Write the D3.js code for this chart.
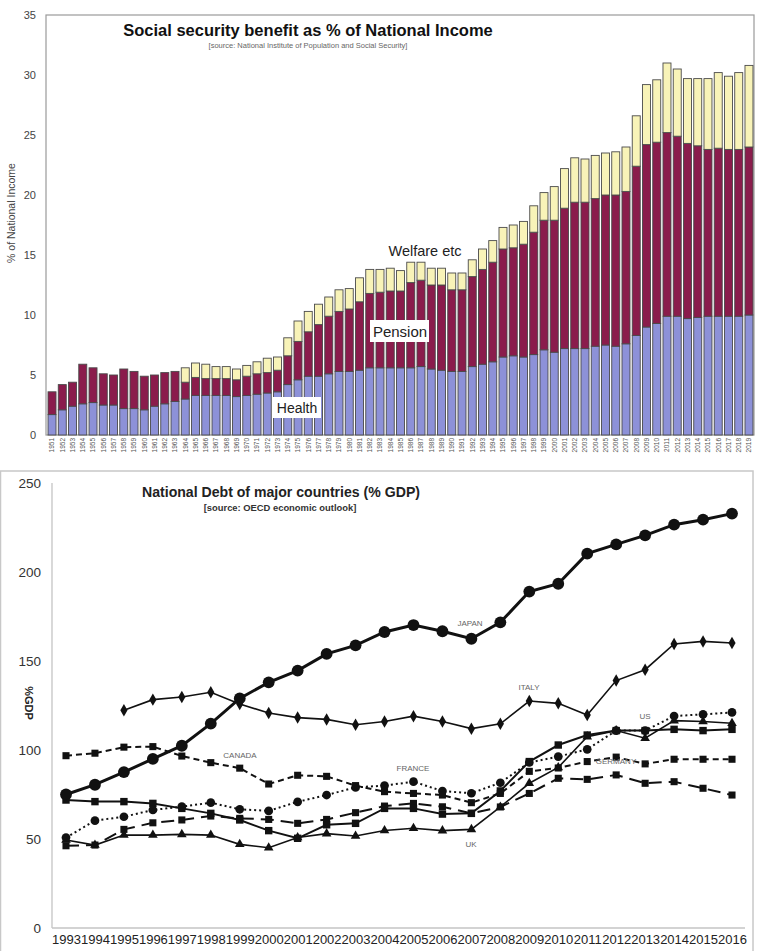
<!DOCTYPE html>
<html><head><meta charset="utf-8">
<script src="https://cdn.jsdelivr.net/npm/d3@7"></script>
<style>body{margin:0;background:#fff}svg{display:block}</style>
</head><body><svg id="c" width="757" height="951"></svg>
<script>
// ---------- Top chart data ----------
const ssYears = [1951,1952,1953,1954,1955,1956,1957,1958,1959,1960,1961,1962,1963,1964,1965,1966,1967,1968,1969,1970,
1971,1972,1973,1974,1975,1976,1977,1978,1979,1980,1981,1982,1983,1984,1985,1986,1987,1988,1989,1990,
1991,1992,1993,1994,1995,1996,1997,1998,1999,2000,2001,2002,2003,2004,2005,2006,2007,2008,2009,2010,
2011,2012,2013,2014,2015,2016,2017,2018,2019];
const health = [1.7,2.1,2.4,2.6,2.7,2.5,2.5,2.2,2.2,2.1,2.4,2.6,2.8,3.0,3.3,3.3,3.3,3.3,3.2,3.3,
3.4,3.5,3.6,4.2,4.6,4.9,4.9,5.1,5.3,5.3,5.4,5.6,5.6,5.6,5.6,5.6,5.7,5.5,5.4,5.3,
5.3,5.7,5.9,6.1,6.5,6.6,6.5,6.7,7.1,6.9,7.2,7.2,7.2,7.4,7.5,7.4,7.6,8.3,9.0,9.3,
9.9,9.9,9.7,9.8,9.9,9.9,9.9,9.9,10.0];
const pension = [1.9,2.1,2.0,3.3,2.9,2.6,2.5,3.3,3.1,2.8,2.6,2.6,2.5,1.4,1.5,1.4,1.4,1.4,1.4,1.6,
1.7,1.7,1.8,2.4,3.2,3.7,4.3,4.8,5.0,5.2,5.7,6.2,6.3,6.4,6.4,7.1,7.2,7.0,7.1,6.8,
6.8,7.5,7.9,8.3,9.0,9.0,9.4,10.2,10.8,11.0,11.7,12.2,12.2,12.3,12.5,12.6,12.7,14.1,15.2,15.1,
15.3,15.0,14.6,14.3,13.9,14.0,13.9,13.9,14.0];
const welfare = [0,0,0,0,0,0,0,0,0,0,0,0,0,1.2,1.2,1.2,1.0,1.0,0.9,0.9,
1.0,1.2,1.1,1.5,1.7,1.7,1.7,1.6,1.8,1.7,2.0,2.0,1.9,1.9,1.7,1.7,1.5,1.4,1.4,1.4,
1.4,1.4,1.7,1.8,1.8,1.9,1.9,2.2,2.3,2.8,3.3,3.7,3.6,3.6,3.5,3.6,3.7,4.2,5.0,5.2,
5.8,5.6,5.4,5.6,5.9,6.3,6.1,6.4,6.8];
const ssKeys = ["health","pension","welfare"];
const ssColors = ["#8d91d8","#8a1c4c","#f8f3b8"];
const ssTicks = [0,5,10,15,20,25,30,35];

// ---------- Bottom chart data ----------
const debtYears = ["1993","1994","1995","1996","1997","1998","1999","2000","2001","2002","2003","2004",
"2005","2006","2007","2008","2009","2010","2011","2012","2013","2014","2015","2016"];
const japan   = [75,80.5,87.6,95,102.4,114.8,129,138,144.6,154,158.8,166.3,170.2,166.7,162.5,171.7,189,193.4,210.3,215.5,220.6,226.6,229.4,232.8];
const italy   = [null,null,122.3,128.3,129.8,132.4,125.8,120.8,118.2,117.2,114.2,116,119,116,112,114.7,127.5,126.2,119.6,139,145.1,159.6,161,160.1];
const canada  = [96.8,98.2,101.6,101.9,96.6,92.9,89.8,80.9,85.8,85.2,80,76.6,75.6,74.7,70.4,75.6,88,89.9,93.5,96,92.2,94.8,94.8,94.8];
const france  = [50.8,60.3,62.5,66.3,68.2,70.4,66.7,65.8,70.9,74.7,79,80,82.2,76.9,75.7,81.6,93,96.3,100.4,110.9,110.9,119.1,120,121.1];
const us      = [71.9,71,71,70,67.2,64.4,60.7,54.7,50.4,58,58.8,67.2,67.2,64,64.4,77,93.5,102.8,108.4,110.9,110.9,111.6,110.9,111.6];
const uk      = [49.4,46.6,52.2,52.2,52.6,52.2,47,45.1,50.8,53,51.7,54.8,56,54.7,55.4,68,81.3,90.2,107.5,110.9,106.6,116.5,116,115];
const germany = [46.2,46.6,55.4,59.1,60.7,62.9,61.6,61,58.8,61,64.8,68.5,70,68.1,64.4,68,75.6,84.1,83.5,86,81.3,82.2,78.5,74.7];
const debtTicks = [0,50,100,150,200,250];

const svg = d3.select("#c");
const FONT = "Liberation Sans, Arial, sans-serif";

// =================== TOP CHART ===================
const gTop = svg.append("g");
const x1 = d3.scaleBand().domain(ssYears).range([47, 754]).paddingInner(0.22).paddingOuter(0.1);
const y1 = d3.scaleLinear().domain([0, 35]).range([435, 15]);

gTop.append("rect").attr("x", 46).attr("y", y1(35)).attr("width", 708).attr("height", y1(0) - y1(35))
  .attr("fill", "#fff").attr("stroke", "#9a9a9a").attr("stroke-width", 1.2);

const rows = ssYears.map((yr, i) => ({year: yr, health: health[i], pension: pension[i], welfare: welfare[i]}));
const stacked = d3.stack().keys(ssKeys)(rows);
stacked.forEach((layer, li) => {
  gTop.append("g").selectAll("rect").data(layer).join("rect")
    .attr("x", d => x1(d.data.year))
    .attr("width", x1.bandwidth())
    .attr("y", d => y1(d[1]))
    .attr("height", d => Math.max(0, y1(d[0]) - y1(d[1])))
    .attr("fill", ssColors[li])
    .attr("stroke", d => (d[1] - d[0]) > 0 ? "#4a4a4a" : "none")
    .attr("stroke-width", 0.9);
});

const yAx1 = gTop.append("g").attr("transform", "translate(46,0)")
  .call(d3.axisLeft(y1).tickValues(ssTicks).tickSize(0).tickPadding(10));
yAx1.select(".domain").remove();
yAx1.selectAll("text").attr("font-size", 11).attr("font-family", FONT).attr("fill", "#444");

const xAx1 = gTop.append("g").attr("transform", `translate(0,${y1(0)})`)
  .call(d3.axisBottom(x1).tickSize(0));
xAx1.select(".domain").remove();
xAx1.selectAll("text")
  .attr("font-size", 6.5).attr("font-family", FONT).attr("fill", "#555")
  .attr("transform", "rotate(-90)").attr("text-anchor", "end")
  .attr("x", -3).attr("y", 0).attr("dy", "0.35em");

gTop.append("text").attr("transform", "translate(15,213) rotate(-90)")
  .attr("text-anchor", "middle").attr("font-size", 10.5).attr("font-family", FONT).attr("fill", "#444")
  .text("% of National Income");

gTop.append("text").attr("x", 308).attr("y", 36).attr("text-anchor", "middle")
  .attr("font-size", 16.5).attr("font-weight", "bold").attr("font-family", FONT).attr("fill", "#111")
  .text("Social security benefit as % of National Income");
gTop.append("text").attr("x", 308).attr("y", 48).attr("text-anchor", "middle")
  .attr("font-size", 7.5).attr("font-family", FONT).attr("fill", "#666")
  .text("[source: National Institute of Population and Social Security]");

gTop.append("text").attr("x", 425).attr("y", 256).attr("text-anchor", "middle")
  .attr("font-size", 14.5).attr("font-family", FONT).attr("fill", "#222").text("Welfare etc");
gTop.append("rect").attr("x", 370).attr("y", 320).attr("width", 59).attr("height", 22).attr("fill", "#fff");
gTop.append("text").attr("x", 400).attr("y", 337).attr("text-anchor", "middle")
  .attr("font-size", 15).attr("font-family", FONT).attr("fill", "#222").text("Pension");
gTop.append("rect").attr("x", 273).attr("y", 397).attr("width", 48).attr("height", 21).attr("fill", "#fff");
gTop.append("text").attr("x", 297).attr("y", 413).attr("text-anchor", "middle")
  .attr("font-size", 14).attr("font-family", FONT).attr("fill", "#222").text("Health");

// =================== BOTTOM CHART ===================
const gBot = svg.append("g");
gBot.append("rect").attr("x", 0.5).attr("y", 471).attr("width", 752.5).attr("height", 490)
  .attr("fill", "#fff").attr("stroke", "#c8c8c8").attr("stroke-width", 1.5);

const x2 = d3.scalePoint().domain(debtYears).range([66, 732]);
const y2 = d3.scaleLinear().domain([0, 250]).range([928, 483]);

gBot.append("line").attr("x1", 52).attr("x2", 52).attr("y1", y2(250)).attr("y2", y2(0))
  .attr("stroke", "#c4c4c4").attr("stroke-width", 1.3);
gBot.append("line").attr("x1", 52).attr("x2", 745).attr("y1", y2(0)).attr("y2", y2(0))
  .attr("stroke", "#c4c4c4").attr("stroke-width", 1.3);

const yAx2 = gBot.append("g").attr("transform", "translate(52,0)")
  .call(d3.axisLeft(y2).tickValues(debtTicks).tickSize(0).tickPadding(11));
yAx2.select(".domain").remove();
yAx2.selectAll("text").attr("font-size", 13.5).attr("font-family", FONT).attr("fill", "#333");

const xAx2 = gBot.append("g").attr("transform", `translate(0,${y2(0)})`)
  .call(d3.axisBottom(x2).tickSize(0).tickPadding(7));
xAx2.select(".domain").remove();
xAx2.selectAll("text").attr("font-size", 13).attr("font-family", FONT).attr("fill", "#222");

gBot.append("text").attr("transform", "translate(25,703) rotate(90)")
  .attr("text-anchor", "middle").attr("font-size", 11).attr("font-weight", "bold")
  .attr("font-family", FONT).attr("fill", "#222").text("%GDP");

gBot.append("text").attr("x", 281).attr("y", 497).attr("text-anchor", "middle")
  .attr("font-size", 14.1).attr("font-weight", "bold").attr("font-family", FONT).attr("fill", "#222")
  .text("National Debt of major countries (% GDP)");
gBot.append("text").attr("x", 280).attr("y", 511).attr("text-anchor", "middle")
  .attr("font-size", 9.4).attr("font-weight", "bold").attr("font-family", FONT).attr("fill", "#333")
  .text("[source: OECD economic outlook]");

const series = [
  {name: "GERMANY", data: germany, dash: "13,7", width: 2, sym: d3.symbolSquare, size: 50},
  {name: "UK", data: uk, dash: null, width: 1.6, sym: d3.symbolTriangle, size: 40},
  {name: "US", data: us, dash: null, width: 2, sym: d3.symbolSquare, size: 55},
  {name: "FRANCE", data: france, dash: "2,3", width: 2, sym: d3.symbolCircle, size: 60},
  {name: "CANADA", data: canada, dash: "6,4", width: 2, sym: d3.symbolSquare, size: 50},
  {name: "ITALY", data: italy, dash: null, width: 1.6, sym: d3.symbolDiamond, size: 45},
  {name: "JAPAN", data: japan, dash: null, width: 3, sym: d3.symbolCircle, size: 110}
];
const line2 = d3.line().defined(d => d.v != null).x(d => x2(d.yr)).y(d => y2(d.v));
series.forEach(s => {
  const pts = debtYears.map((yr, i) => ({yr, v: s.data[i]}));
  gBot.append("path").datum(pts).attr("d", line2).attr("fill", "none")
    .attr("stroke", "#111").attr("stroke-width", s.width)
    .attr("stroke-dasharray", s.dash);
  gBot.append("g").selectAll("path").data(pts.filter(d => d.v != null)).join("path")
    .attr("transform", d => `translate(${x2(d.yr)},${y2(d.v)})`)
    .attr("d", d3.symbol().type(s.sym).size(s.size)).attr("fill", "#111");
});

const labels = [
  {t: "JAPAN", x: 470, y: 626}, {t: "ITALY", x: 529, y: 690}, {t: "CANADA", x: 240, y: 758},
  {t: "FRANCE", x: 413, y: 771}, {t: "US", x: 645, y: 719}, {t: "GERMANY", x: 616, y: 764},
  {t: "UK", x: 471, y: 847}
];
gBot.append("g").selectAll("text").data(labels).join("text")
  .attr("x", d => d.x).attr("y", d => d.y).attr("text-anchor", "middle")
  .attr("font-size", 8).attr("font-family", FONT).attr("fill", "#666").text(d => d.t);
</script></body></html>
